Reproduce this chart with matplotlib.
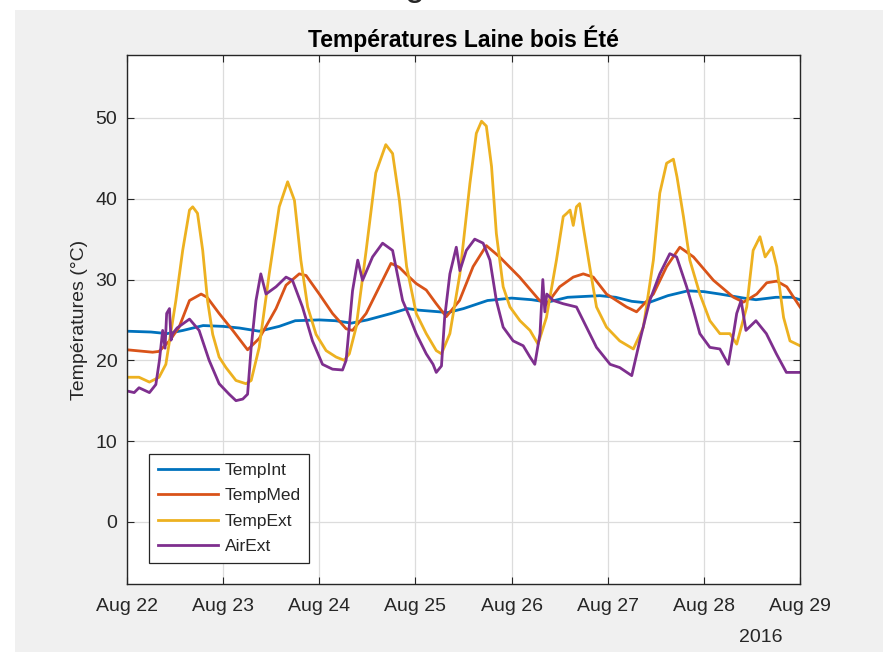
import matplotlib
matplotlib.use("Agg")
import matplotlib.pyplot as plt
import matplotlib.dates as mdates
from matplotlib.patches import Rectangle
import numpy as np
import pandas as pd

plt.rcParams['font.family'] = ['Liberation Sans', 'DejaVu Sans']

# ---------------- data (hours since 2016-08-22 00:00, °C) ----------------
int_hours = [0, 6, 10, 14, 19, 24, 28, 33, 38, 42, 48, 52, 56, 60, 66, 70, 73, 78, 80, 84,
             90, 96, 101, 105, 110, 118, 122, 126, 130, 135, 140, 144, 148, 154, 157, 162, 166, 168]
int_vals = [23.6, 23.5, 23.3, 23.7, 24.3, 24.2, 24.0, 23.6, 24.2, 24.9, 25.0, 24.9, 24.6, 25.0,
            25.8, 26.4, 26.2, 26.0, 25.9, 26.4, 27.4, 27.7, 27.5, 27.2, 27.8, 28.0, 27.8, 27.3,
            27.1, 28.0, 28.6, 28.5, 28.2, 27.7, 27.5, 27.8, 27.8, 27.5]

med_hours = [0, 6.4, 8, 10.6, 13, 15.6, 18.5, 20, 23, 26.4, 30.1, 33, 37.2, 39.7, 43, 44.7, 48,
             51.3, 54.7, 56.3, 59.7, 63, 65.9, 68, 69.6, 72.2, 74.7, 77.2, 79.7, 83, 86.4, 89.7,
             93, 98, 103, 104.7, 108, 111.4, 113.9, 116.4, 119.7, 124.7, 127.2, 131.4, 134.7,
             138, 141.4, 146.4, 151.4, 153.9, 157.2, 159.7, 162.2, 164.7, 168]
med_vals = [21.3, 21.0, 21.1, 22.4, 24.1, 27.4, 28.2, 27.8, 25.8, 23.7, 21.3, 22.7, 26.4, 29.3,
            30.7, 30.5, 28.2, 25.8, 23.9, 23.7, 25.8, 29.1, 32.0, 31.5, 30.7, 29.5, 28.7, 27.0,
            25.4, 27.4, 31.6, 34.2, 32.8, 30.3, 27.4, 26.9, 29.1, 30.3, 30.7, 30.3, 28.2, 26.6,
            26.0, 28.2, 31.6, 34.0, 32.8, 29.9, 27.8, 27.2, 28.2, 29.6, 29.8, 29.1, 26.6]

ext_hours = [0, 3, 5.6, 8, 9.7, 12.2, 13.9, 15.6, 16.4, 17.6, 18.9, 20.1, 21.4, 23, 24.7, 27.2,
             29.7, 31, 33, 35.5, 38, 40.1, 41.8, 43.4, 45.1, 47.2, 49.7, 52.2, 54.2, 55.5, 57.2,
             59.7, 62.1, 64.6, 66.3, 68, 69.8, 72.2, 74.7, 77.2, 78.5, 80.6, 83.1, 85.6, 87.2,
             88.5, 89.7, 91, 92.2, 93.9, 95.6, 98.1, 100.6, 102.6, 104.7, 107.2, 108.9, 109.8,
             110.6, 111.4, 112.2, 113, 113.9, 115.5, 117.2, 119.7, 123, 126.4, 128.9, 131.4, 133,
             134.7, 136.4, 137.3, 138.9, 140.5, 143, 145.5, 148, 150.5, 152.2, 154.7, 156.3, 158,
             159.3, 161, 162.2, 163.9, 165.5, 168]
ext_vals = [17.9, 17.9, 17.3, 17.9, 19.5, 27.4, 33.6, 38.6, 39.0, 38.2, 33.6, 27.4, 23.2, 20.4,
            19.1, 17.5, 17.1, 17.5, 21.6, 30.7, 39.0, 42.1, 39.8, 32.4, 26.6, 23.2, 21.2, 20.4,
            20.0, 20.8, 24.1, 33.6, 43.2, 46.7, 45.6, 39.8, 31.6, 25.8, 23.3, 21.2, 20.8, 23.3,
            30.7, 41.9, 48.1, 49.6, 49.0, 44.0, 35.7, 29.1, 26.6, 24.9, 23.7, 22.0, 25.3, 32.4,
            37.8, 38.2, 38.6, 36.7, 39.0, 39.4, 36.5, 31.6, 26.6, 24.1, 22.4, 21.4, 24.1, 32.4,
            40.7, 44.4, 44.9, 42.7, 37.8, 32.4, 28.2, 24.9, 23.3, 23.3, 22.0, 26.6, 33.6, 35.3,
            32.8, 34.0, 31.6, 25.3, 22.4, 21.8]

air_hours = [0, 1.8, 3, 5.6, 7.2, 8.1, 8.9, 9.5, 9.9, 10.6, 11.0, 11.4, 12.5, 13.9, 15.6, 18,
             20.5, 23, 25.5, 27.2, 28.9, 30.1, 31, 32.2, 33.4, 34.7, 37.2, 39.7, 41.3, 43.8, 46.3,
             48.8, 51.3, 53.8, 54.7, 56.3, 57.6, 58.8, 61.3, 63.8, 66.3, 68.8, 70.6, 72.2, 74.7,
             76.4, 77.2, 78.5, 79.3, 80.6, 82.2, 83.1, 84.7, 86.8, 88.9, 90.6, 92.2, 93.9, 96.4,
             98.9, 100.6, 101.8, 103.1, 103.8, 104.3, 104.8, 106.4, 108.9, 112.2, 114.7, 117.2,
             120.6, 123, 126, 128, 130.5, 133, 135.5, 137.2, 139.7, 141.4, 143, 145.5, 148, 150.1,
             151.4, 152.2, 153.3, 154.5, 157, 159.6, 162.1, 164.6, 168]
air_vals = [16.2, 16.0, 16.6, 16.0, 17.0, 20.0, 23.7, 21.5, 25.8, 26.4, 22.5, 23.3, 24.0, 24.5,
            25.1, 23.7, 20.0, 17.1, 15.8, 15.0, 15.2, 15.8, 21.6, 27.4, 30.7, 28.2, 29.1, 30.3,
            29.9, 26.6, 22.4, 19.5, 18.9, 18.8, 20.0, 28.6, 32.4, 29.9, 32.8, 34.5, 33.6, 27.4,
            25.3, 23.3, 20.8, 19.5, 18.5, 19.3, 25.3, 30.7, 34.0, 31.1, 33.6, 35.0, 34.5, 32.4,
            27.4, 24.1, 22.4, 21.8, 20.4, 19.5, 23.3, 30.0, 26.0, 28.2, 27.4, 27.0, 26.6, 24.1,
            21.6, 19.5, 19.1, 18.1, 22.4, 27.4, 30.7, 33.2, 32.8, 29.1, 26.2, 23.3, 21.6, 21.4,
            19.5, 23.3, 25.8, 27.4, 23.7, 24.9, 23.3, 20.8, 18.5, 18.5]

series_names = ['TempInt', 'TempMed', 'TempExt', 'AirExt']
series_colors = ['#0072BD', '#D95319', '#EDB120', '#7E2F8E']

start = pd.Timestamp('2016-08-22')
def to_time(h):
    return start + pd.to_timedelta(np.asarray(h, dtype=float), unit='h')

# ---------------- figure ----------------
W, H = 883, 652
fig = plt.figure(figsize=(W / 100, H / 100), dpi=100, facecolor='white')
fig.patches.append(Rectangle((15 / W, 0), 1 - 15 / W, 1 - 10 / H, transform=fig.transFigure,
                             facecolor='#f0f0f0', edgecolor='none', zorder=-10))
fig.text(414 / W, 1 + 5 / H, 'g', fontsize=26, color='#262626', ha='center', va='baseline')

ax = fig.add_axes([127 / W, (H - 584) / H, (800 - 127) / W, (584 - 55) / H])
ax.set_facecolor('white')

data = [(int_hours, int_vals), (med_hours, med_vals), (ext_hours, ext_vals), (air_hours, air_vals)]
for (hh, vv), name, col in zip(data, series_names, series_colors):
    ax.plot(to_time(hh), vv, color=col, lw=2.0, label=name)

ax.set_xlim(start, start + pd.Timedelta(days=7))
ax.set_ylim(-7.7, 57.8)
ax.set_yticks([0, 10, 20, 30, 40, 50])
ax.xaxis.set_major_locator(mdates.DayLocator())
ax.xaxis.set_major_formatter(mdates.DateFormatter('%b %d'))

tc = '#262626'
ax.grid(True, color='#dcdcdc', lw=0.9)
ax.set_axisbelow(True)
for s in ax.spines.values():
    s.set_color(tc)
    s.set_linewidth(1.0)
ax.tick_params(direction='in', length=5, width=0.8, colors=tc, labelsize=14,
               top=True, right=True)
ax.tick_params(axis='x', pad=10)
ax.tick_params(axis='y', pad=7)

ax.set_ylabel('Températures (°C)', fontsize=14, color=tc, labelpad=5)
ax.set_title('Températures Laine bois Été', fontsize=16.5, fontweight='bold', color='black', pad=6)

fig.text(783 / W, (H - 642) / H, '2016', fontsize=14, color=tc, ha='right', va='baseline')

leg = ax.legend(loc='lower left', bbox_to_anchor=(22 / 673, 21 / 529), borderaxespad=0,
                fontsize=12.5, handlelength=3.5, handletextpad=0.35, labelspacing=0.6,
                borderpad=0.5, fancybox=False, framealpha=1, edgecolor=tc)
leg.get_frame().set_linewidth(0.9)
for t in leg.get_texts():
    t.set_color(tc)

fig.savefig('out.png', dpi=100, facecolor=fig.get_facecolor())
